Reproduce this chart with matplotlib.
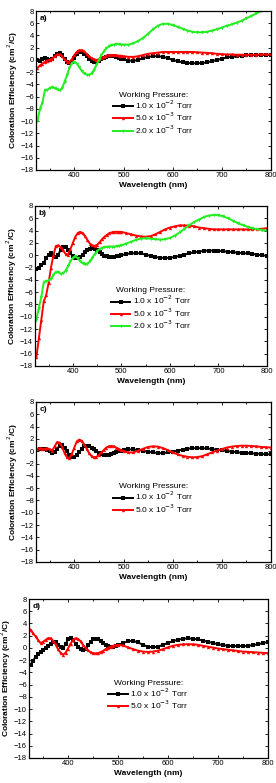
import matplotlib.pyplot as plt
from matplotlib.ticker import MultipleLocator

plt.rcParams['font.family'] = ['Liberation Sans', 'DejaVu Sans']

# wavelength grid (nm): 5 nm steps up to 495, then 10 nm steps
wl = list(range(325, 500, 5)) + list(range(500, 801, 10))

# panel a
a_1e2 = [0.0, -0.1, 0.1, 0.3, 0.2, 0.0, 0.2, 0.6, 1.0, 1.1, 0.8, 0.2, -0.3, -0.5, -0.3, 0.3, 0.9, 1.3,
         1.3, 1.0, 0.6, 0.2, -0.2, -0.4, -0.4, -0.2, 0.1, 0.3, 0.5, 0.6, 0.6, 0.6, 0.5, 0.3, 0.2,
         0.1, -0.1, -0.15, 0.0, 0.3, 0.5, 0.6, 0.6, 0.5, 0.3, 0.0, -0.2, -0.4, -0.5, -0.55, -0.55,
         -0.5, -0.4, -0.2, 0.0, 0.2, 0.4, 0.5, 0.6, 0.7, 0.75, 0.8, 0.8, 0.8, 0.8, 0.8]
a_5e3 = [-1.3, -0.9, -0.6, -0.3, -0.1, 0.0, 0.2, 0.6, 0.9, 0.9, 0.6, 0.1, -0.3, -0.3, 0.1, 0.8, 1.3, 1.6,
         1.6, 1.4, 1.0, 0.6, 0.3, 0.1, 0.0, 0.1, 0.3, 0.5, 0.7, 0.8, 0.8, 0.8, 0.8, 0.7, 0.7,
         0.6, 0.5, 0.5, 0.6, 0.8, 1.0, 1.1, 1.2, 1.3, 1.3, 1.3, 1.3, 1.3, 1.3, 1.3, 1.25,
         1.2, 1.15, 1.1, 1.0, 0.95, 0.9, 0.9, 0.85, 0.85, 0.85, 0.85, 0.85, 0.9, 0.9, 0.9]
a_2e3 = [-10.0, -8.0, -7.0, -5.0, -4.9, -4.6, -4.5, -4.6, -4.8, -5.0, -4.6, -3.6, -2.5, -1.3, -0.5, -0.3,
         -0.6, -1.2, -1.8, -2.2, -2.4, -2.45, -2.2, -1.6, -0.8, 0.0, 0.8, 1.4, 1.9, 2.2, 2.4, 2.5, 2.6,
         2.6, 2.5,
         2.5, 2.5, 2.7, 3.1, 3.6, 4.3, 5.0, 5.6, 5.9, 5.9, 5.7, 5.4, 5.1, 4.8, 4.6, 4.5,
         4.5, 4.6, 4.8, 5.0, 5.3, 5.6, 5.8, 6.1, 6.4, 6.8, 7.2, 7.6, 8.0, 8.2, 8.4]

# panel b
b_1e2 = [-2.3, -2.0, -1.6, -1.2, -0.5, 0.1, 0.3, 0.0, -0.3, 0.1, 0.9, 1.4, 1.3, 0.9, 0.3, -0.2, -0.5,
         -0.5, -0.3, 0.1, 0.5, 0.8, 1.0, 1.1, 1.0, 0.8, 0.5, 0.2, -0.1, -0.2, -0.3, -0.3, -0.3, -0.2,
         -0.1,
         0.0, 0.2, 0.3, 0.35, 0.3, 0.1, -0.1, -0.3, -0.4, -0.45, -0.4, -0.3, -0.1, 0.1, 0.3, 0.5,
         0.6, 0.7, 0.75, 0.75, 0.7, 0.65, 0.55, 0.5, 0.4, 0.35, 0.3, 0.2, 0.1, 0.0, -0.1]
b_5e3 = [-16.5, -13.5, -10.5, -7.5, -6.5, -4.5, -2.0, 0.0, 1.5, 1.6, 1.3, 0.8, 0.2, 0.1, 1.0, 2.0, 3.0,
         3.6, 3.8, 3.6, 3.1, 2.5, 1.9, 1.6, 1.5, 1.7, 2.1, 2.6, 3.0, 3.3, 3.6, 3.7, 3.8, 3.8, 3.8,
         3.8, 3.6, 3.4, 3.2, 3.05, 3.0, 3.1, 3.4, 3.8, 4.2, 4.5, 4.7, 4.85, 4.85, 4.8, 4.7,
         4.5, 4.4, 4.3, 4.2, 4.2, 4.2, 4.2, 4.2, 4.2, 4.2, 4.2, 4.2, 4.25, 4.3, 4.4]
b_2e3 = [-10.5, -8.5, -6.8, -4.4, -4.2, -4.1, -3.8, -3.2, -2.7, -2.8, -3.0, -2.9, -2.5, -1.8, -1.0,
         -0.4, -0.2, -0.5, -1.0, -1.3, -1.5, -1.4, -1.0, -0.4, 0.2, 0.7, 1.0, 1.2, 1.3, 1.35, 1.4,
         1.4, 1.4, 1.45, 1.5,
         1.6, 1.9, 2.2, 2.5, 2.7, 2.75, 2.7, 2.6, 2.55, 2.6, 2.8, 3.2, 3.7, 4.3, 4.9, 5.4,
         5.8, 6.2, 6.45, 6.55, 6.5, 6.3, 6.0, 5.6, 5.2, 4.9, 4.6, 4.4, 4.2, 4.1, 4.0]

# panel c
c_1e2 = [0.2, 0.3, 0.3, 0.3, 0.2, 0.0, -0.3, -0.2, 0.4, 0.9, 1.0, 0.6, 0.0, -0.6, -1.0, -1.0, -0.6,
         -0.1, 0.4, 0.8, 0.9, 0.85, 0.6, 0.3, 0.0, -0.3, -0.5, -0.6, -0.65, -0.6, -0.5, -0.35, -0.2,
         0.0, 0.1,
         0.2, 0.3, 0.3, 0.2, 0.05, -0.1, -0.2, -0.3, -0.3, -0.2, -0.1, 0.1, 0.25, 0.4, 0.5, 0.5,
         0.5, 0.45, 0.35, 0.25, 0.15, 0.05, -0.05, -0.15, -0.25, -0.3, -0.35, -0.4, -0.45, -0.5, -0.5]
c_5e3 = [0.4, 0.5, 0.4, 0.4, 0.5, 0.3, 0.1, 0.8, 1.5, 1.4, 0.7, -0.3, -1.0, -1.1, -0.4, 0.6, 1.6,
         1.9, 1.7, 1.1, 0.4, -0.3, -0.8, -1.0, -0.9, -0.6, -0.2, 0.2, 0.6, 0.8, 0.85, 0.8, 0.6, 0.4,
         0.2,
         0.0, -0.2, -0.2, 0.1, 0.4, 0.7, 0.8, 0.75, 0.5, 0.2, -0.2, -0.5, -0.75, -0.9, -1.0, -0.95,
         -0.8, -0.5, -0.2, 0.1, 0.35, 0.6, 0.75, 0.85, 0.9, 0.9, 0.85, 0.8, 0.7, 0.65, 0.6]

# panel d
d_1e2 = [-2.8, -2.1, -1.5, -1.0, -0.6, -0.3, 0.0, 0.3, 0.7, 1.0, 0.9, 0.5, 0.1, 0.0, 0.6, 1.4, 1.6,
         1.3, 0.7, 0.1, -0.2, -0.3, -0.1, 0.4, 1.0, 1.4, 1.5, 1.4, 1.1, 0.8, 0.5, 0.3, 0.2, 0.2, 0.3,
         0.45, 0.8, 1.1, 1.15, 0.9, 0.5, 0.2, 0.1, 0.2, 0.5, 0.8, 1.1, 1.35, 1.5, 1.55, 1.5,
         1.4, 1.2, 1.0, 0.8, 0.6, 0.45, 0.35, 0.3, 0.3, 0.3, 0.35, 0.45, 0.6, 0.8, 0.95]
d_5e3 = [3.0, 2.4, 1.9, 1.3, 0.8, 1.0, 1.3, 1.6, 1.6, 1.2, 0.6, -0.2, -0.8, -1.1, -0.8, -0.1, 0.7,
         1.3, 1.6, 1.5, 1.1, 0.5, 0.0, -0.4, -0.7, -0.85, -0.9, -0.85, -0.7, -0.5, -0.2, 0.0, 0.2,
         0.35, 0.45,
         0.5, 0.4, 0.1, -0.2, -0.45, -0.6, -0.65, -0.6, -0.45, -0.2, 0.1, 0.35, 0.5, 0.6, 0.6, 0.6,
         0.5, 0.35, 0.2, 0.05, -0.1, -0.2, -0.3, -0.4, -0.5, -0.6, -0.65, -0.7, -0.75, -0.8, -0.85]

labels = ["1.0 x 10$^{-2}$ Torr", "5.0 x 10$^{-3}$ Torr", "2.0 x 10$^{-3}$ Torr"]
colors = ["black", "red", "#22ee22"]
markers = ["s", "^", "v"]

panels = [
    ("a)", [a_1e2, a_5e3, a_2e3], [36, 11, 271, 170]),
    ("b)", [b_1e2, b_5e3, b_2e3], [35, 206, 267, 366]),
    ("c)", [c_1e2, c_5e3], [36, 402, 271, 562]),
    ("d)", [d_1e2, d_5e3], [29, 599, 268, 758]),
]

W, H = 276, 783
fig = plt.figure(figsize=(W / 100, H / 100), dpi=100)

for tag, series, (l, t, r, b) in panels:
    ax = fig.add_axes([l / W, 1 - b / H, (r - l) / W, (b - t) / H])
    for ys, lab, c, m in zip(series, labels, colors, markers):
        ax.plot(wl, ys, color=c, marker=m, markersize=2.4, markeredgewidth=0,
                linewidth=1.4, label=lab)
    ax.set_xlim(322, 800)
    ax.set_ylim(-18, 8)
    ax.xaxis.set_major_locator(MultipleLocator(100))
    ax.xaxis.set_minor_locator(MultipleLocator(50))
    ax.yaxis.set_major_locator(MultipleLocator(2))
    ax.tick_params(which='both', direction='in', top=True, right=True, labelsize=5.5,
                   pad=1.5, width=0.6)
    ax.tick_params(which='major', length=2.5)
    ax.tick_params(which='minor', length=1.5)
    for s in ax.spines.values():
        s.set_linewidth(0.9)
    ax.set_xlabel("Wavelength (nm)", fontsize=6, fontweight='bold', labelpad=2)
    ax.set_ylabel("Coloration Efficiency (cm$^2$/C)", fontsize=6, fontweight='bold', labelpad=0.5)
    ax.text(0.015, 0.975, tag, transform=ax.transAxes, fontsize=6, fontweight='bold',
            va='top', ha='left')
    ax.legend(loc='upper center', bbox_to_anchor=(0.5, 0.53), frameon=False,
              fontsize=6, title="Working Pressure:", title_fontsize=6,
              handlelength=2.3, labelspacing=0.0, handletextpad=0.3,
              borderpad=0.2, markerscale=1.0)

fig.savefig("out.png", dpi=100)
